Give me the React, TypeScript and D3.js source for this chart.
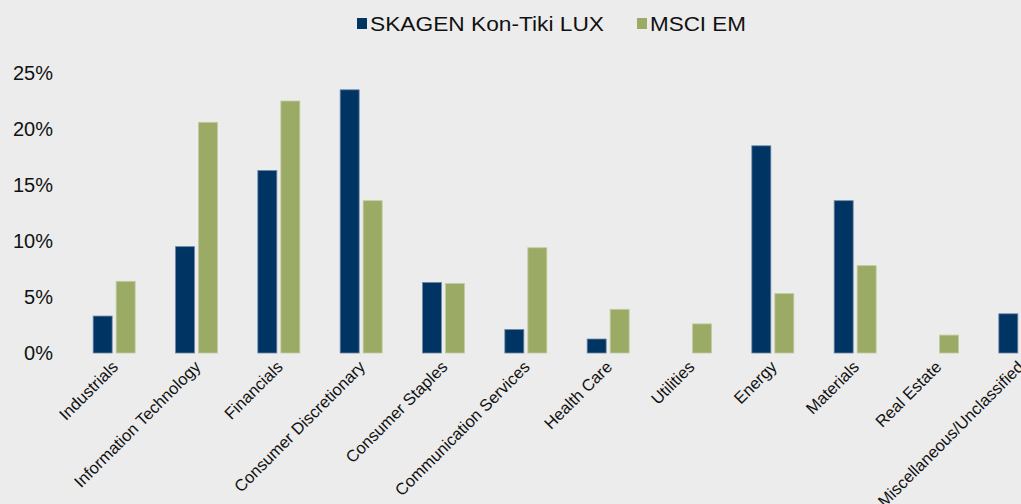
import { useEffect, useRef } from "react";
import * as d3 from "d3";

const categories = [
  "Industrials",
  "Information Technology",
  "Financials",
  "Consumer Discretionary",
  "Consumer Staples",
  "Communication Services",
  "Health Care",
  "Utilities",
  "Energy",
  "Materials",
  "Real Estate",
  "Miscellaneous/Unclassified",
];
const fundValues = [3.3, 9.5, 16.3, 23.5, 6.3, 2.1, 1.25, 0, 18.5, 13.6, 0, 3.5];
const indexValues = [6.4, 20.6, 22.5, 13.6, 6.2, 9.4, 3.9, 2.6, 5.3, 7.8, 1.6, 0];
const seriesNames = ["SKAGEN Kon-Tiki LUX", "MSCI EM"];
const yTicks = [0, 5, 10, 15, 20, 25];

const W = 1021;
const H = 504;
const colors = ["#003462", "#9bab66"];
const strokes = ["#6f88a8", "#c3cda0"];
const font = "'Liberation Sans', Arial, sans-serif";

function App() {
  const ref = useRef<SVGSVGElement>(null);

  useEffect(() => {
    const svg = d3.select(ref.current);
    svg.selectAll("*").remove();

    svg.append("rect").attr("width", W).attr("height", H).attr("fill", "#ececec");

    const x = d3.scaleBand().domain(categories).range([73, 1061]);
    const y = d3.scaleLinear().domain([0, 25]).range([353, 73]);
    const barW = 19;
    const gap = 4;

    // y axis labels
    svg
      .append("g")
      .selectAll("text")
      .data(yTicks)
      .join("text")
      .attr("x", 53)
      .attr("y", (d) => y(d))
      .attr("dy", "0.35em")
      .attr("text-anchor", "end")
      .style("font-family", font)
      .style("font-size", "20px")
      .attr("fill", "#111")
      .text((d) => d + "%");

    const series = [fundValues, indexValues];
    series.forEach((vals, si) => {
      svg
        .append("g")
        .selectAll("rect")
        .data(vals.map((v, i) => ({ v, c: categories[i] })).filter((d) => d.v > 0))
        .join("rect")
        .attr("x", (d) => {
          const cx = x(d.c)! + x.bandwidth() / 2;
          return si === 0 ? cx - gap / 2 - barW : cx + gap / 2;
        })
        .attr("y", (d) => y(d.v))
        .attr("width", barW)
        .attr("height", (d) => y(0) - y(d.v))
        .attr("fill", colors[si])
        .attr("stroke", strokes[si])
        .attr("stroke-width", 0.8);
    });

    // category labels
    svg
      .append("g")
      .selectAll("text")
      .data(categories)
      .join("text")
      .attr("transform", (d) => {
        const cx = x(d)! + x.bandwidth() / 2 + 5;
        return `translate(${cx},368) rotate(-45)`;
      })
      .attr("text-anchor", "end")
      .style("font-family", font)
      .style("font-size", "16.5px")
      .attr("fill", "#111")
      .text((d) => d);

    // legend
    const legendX = [357, 637];
    const legendLen = [234, 96];
    seriesNames.forEach((name, i) => {
      const g = svg.append("g").attr("transform", `translate(${legendX[i]},0)`);
      g.append("rect").attr("x", 0).attr("y", 18).attr("width", 10).attr("height", 11).attr("fill", colors[i]);
      g.append("text")
        .attr("x", 13)
        .attr("y", 24)
        .attr("dy", "0.35em")
        .attr("textLength", legendLen[i])
        .attr("lengthAdjust", "spacingAndGlyphs")
        .style("font-family", font)
        .style("font-size", "20px")
        .attr("fill", "#111")
        .text(name);
    });
  }, []);

  return (
    <svg ref={ref} width={W} height={H} style={{ position: "absolute", left: 0, top: 0 }} />
  );
}

export default App;
